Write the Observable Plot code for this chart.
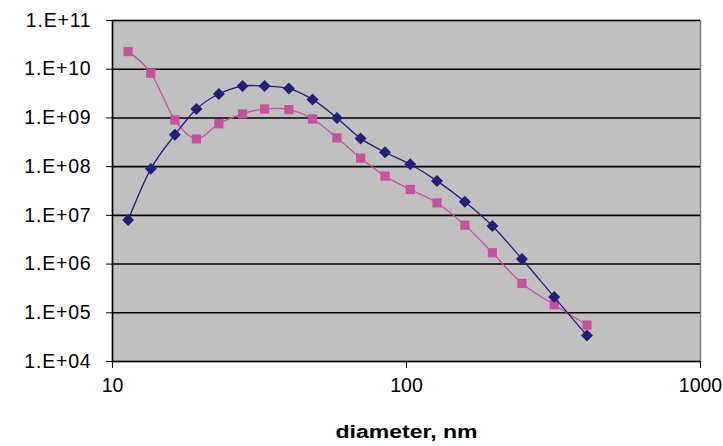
<!DOCTYPE html>
<html>
<head>
<meta charset="utf-8">
<script src="https://cdn.jsdelivr.net/npm/d3@7"></script>
<script src="https://cdn.jsdelivr.net/npm/@observablehq/plot@0.6"></script>
<style>
  html, body { margin: 0; padding: 0; background: #ffffff; }
  #chart svg [aria-label="x-axis label"] { font-weight: bold; font-size: 18px; }
  #chart svg [aria-label="y-axis tick label"] { letter-spacing: 0.8px; }
</style>
</head>
<body>
<div id="chart"></div>
<script>
// Data
const diameters = [11.3, 13.5, 16.3, 19.3, 23.0, 27.7, 32.9, 39.8, 47.9, 58.0, 69.8, 84.5, 103, 127, 158, 196, 247, 318, 411];
const navySeries = [8.0e6, 9.0e7, 4.5e8, 1.53e9, 3.1e9, 4.5e9, 4.5e9, 4.0e9, 2.4e9, 1.0e9, 3.8e8, 1.97e8, 1.12e8, 5.1e7, 1.9e7, 6.05e6, 1.27e6, 2.1e5, 3.4e4];
const magentaSeries = [2.3e10, 8.3e9, 9.1e8, 3.7e8, 7.6e8, 1.21e9, 1.53e9, 1.48e9, 9.5e8, 3.9e8, 1.5e8, 6.4e7, 3.4e7, 1.8e7, 6.3e6, 1.71e6, 4.0e5, 1.46e5, 5.6e4];
const yTicks = [1e4, 1e5, 1e6, 1e7, 1e8, 1e9, 1e10, 1e11];
const xTicks = [10, 100, 1000];
const xLabel = "diameter, nm";

const navy = diameters.map((d, i) => ({d, v: navySeries[i]}));
const magenta = diameters.map((d, i) => ({d, v: magentaSeries[i]}));

const fmtY = v => "1.E+" + String(Math.round(Math.log10(v))).padStart(2, "0");

const chart = Plot.plot({
  width: 723,
  height: 446,
  marginLeft: 112,
  marginRight: 23,
  marginTop: 20,
  marginBottom: 85,
  style: { fontFamily: "'Liberation Sans', Arial, sans-serif", fontSize: "19px", color: "#000", background: "#fff" },
  x: { type: "log", domain: [10, 1000] },
  y: { type: "log", domain: [1e4, 1e11] },
  marks: [
    Plot.frame({ fill: "#C0C0C0", stroke: "#808080", strokeWidth: 1.5 }),
    Plot.ruleY(yTicks, { stroke: "#000", strokeWidth: 1.6 }),
    Plot.ruleX([10], { stroke: "#000", strokeWidth: 1.5 }),
    Plot.axisY({ ticks: yTicks, tickFormat: fmtY, tickSize: 6, tickPadding: 15, fontSize: 19.5, label: null, stroke: "#000" }),
    Plot.axisX({ ticks: xTicks, tickFormat: d => String(d), tickSize: 7, tickPadding: 10, fontSize: 19.5, label: xLabel, labelAnchor: "center", labelArrow: "none", labelOffset: 76, stroke: "#000" }),
    Plot.line(magenta, { x: "d", y: "v", stroke: "#C850A0", strokeWidth: 1.3, curve: "cardinal" }),
    Plot.dot(magenta, { x: "d", y: "v", symbol: "square", r: 5.2, fill: "#C850A0", stroke: "none" }),
    Plot.line(navy, { x: "d", y: "v", stroke: "#20207A", strokeWidth: 1.3, curve: "cardinal" }),
    Plot.dot(navy, { x: "d", y: "v", symbol: "diamond2", r: 5.4, fill: "#20207A", stroke: "none" })
  ]
});
document.getElementById("chart").appendChild(chart);
// The reference's axis title is drawn in a wide face: stretch it horizontally about its centre
chart.querySelectorAll('[aria-label="x-axis label"] text').forEach(t => {
  const tr = t.getAttribute("transform") || "";
  t.setAttribute("transform", tr + " scale(1.28,1)");
});
</script>
</body>
</html>
